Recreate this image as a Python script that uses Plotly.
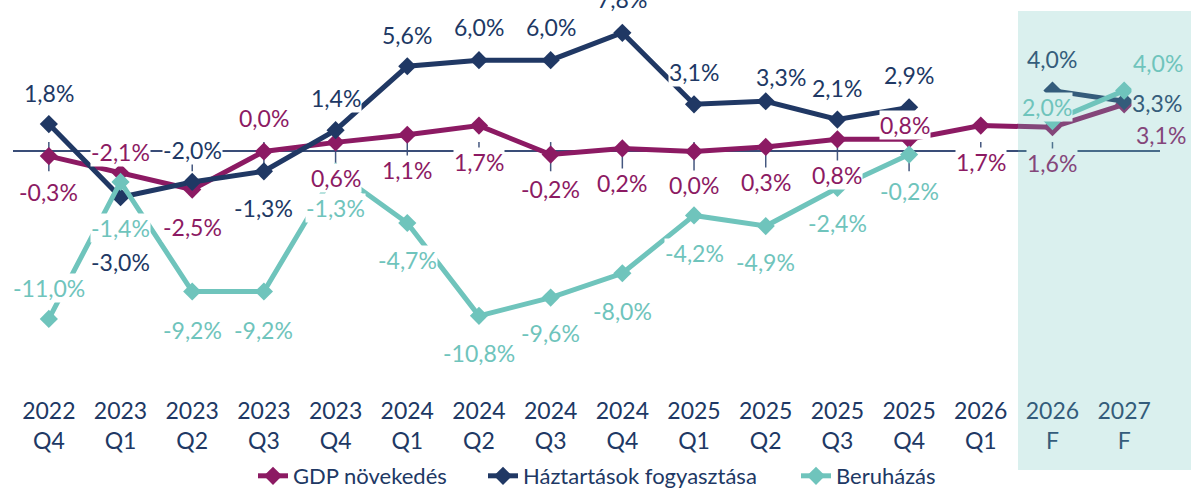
import plotly.graph_objects as go

# ---------------- data ----------------
categories = ["2022 Q4", "2023 Q1", "2023 Q2", "2023 Q3", "2023 Q4",
              "2024 Q1", "2024 Q2", "2024 Q3", "2024 Q4",
              "2025 Q1", "2025 Q2", "2025 Q3", "2025 Q4",
              "2026 Q1", "2026 F", "2027 F"]
tick_labels = ["2022<br>Q4", "2023<br>Q1", "2023<br>Q2", "2023<br>Q3", "2023<br>Q4",
               "2024<br>Q1", "2024<br>Q2", "2024<br>Q3", "2024<br>Q4",
               "2025<br>Q1", "2025<br>Q2", "2025<br>Q3", "2025<br>Q4",
               "2026<br>Q1", "2026<br>F", "2027<br>F"]

gdp = [-0.3, -1.4, -2.5, 0.0, 0.6, 1.1, 1.7, -0.2, 0.2, 0.0, 0.3, 0.8, 0.8, 1.7, 1.6, 3.1]
gdp_labels = ["-0,3%", "-2,1%", "-2,5%", "0,0%", "0,6%", "1,1%", "1,7%", "-0,2%", "0,2%",
              "0,0%", "0,3%", "0,8%", "0,8%", "1,7%", "1,6%", "3,1%"]

household = [1.8, -3.0, -2.0, -1.3, 1.4, 5.6, 6.0, 6.0, 7.8, 3.1, 3.3, 2.1, 2.9, None, 4.0, 3.3]
household_labels = ["1,8%", "-3,0%", "-2,0%", "-1,3%", "1,4%", "5,6%", "6,0%", "6,0%", "7,8%",
                    "3,1%", "3,3%", "2,1%", "2,9%", "", "4,0%", "3,3%"]

investment = [-11.0, -2.0, -9.2, -9.2, -1.3, -4.7, -10.8, -9.6, -8.0, -4.2, -4.9, -2.4, -0.2, None, 2.0, 4.0]
investment_labels = ["-11,0%", "-1,4%", "-9,2%", "-9,2%", "-1,3%", "-4,7%", "-10,8%", "-9,6%", "-8,0%",
                     "-4,2%", "-4,9%", "-2,4%", "-0,2%", "", "2,0%", "4,0%"]

series_names = ["GDP növekedés", "Háztartások fogyasztása", "Beruházás"]
forecast_start = 14  # index of first forecast category

# ---------------- styles ----------------
FONT = "Lato, 'Open Sans', sans-serif"
C_GDP = "#8C1A63"
C_HH = "#203864"
C_INV = "#6FC4BC"
SHADE_RGB = (111, 197, 189)
SHADE_A = 0.26

W, H = 1191, 491
ML, MR, MT, MB = 13, 31, 0, 96
PW = W - ML - MR
PH = H - MT - MB


def blend(hex_color):
    h = hex_color.lstrip("#")
    r, g, b = int(h[0:2], 16), int(h[2:4], 16), int(h[4:6], 16)
    sr, sg, sb = SHADE_RGB
    return "rgb(%d,%d,%d)" % (round(r + SHADE_A * (sr - r)),
                              round(g + SHADE_A * (sg - g)),
                              round(b + SHADE_A * (sb - b)))


def px_x(p):
    return (p - ML) / PW


def px_y(p):
    return (H - MB - p) / PH

# label offsets in screen pixels (dx right, dy down) relative to each point
gdp_off = [(0, 36), (0, -21), (0, 37), (0, -33), (0, 36), (0, 35), (0, 36), (0, 34), (0, 35),
           (0, 34), (0, 35), (0, 36), (-4, -14), (0, 36), (0, 36), (37, 31)]
hh_off = [(0, -31), (0, 65), (0, -32), (0, 37), (0, -32), (0, -31), (0, -33), (0, -33), (0, -34),
          (0, -32), (15, -24), (0, -32), (0, -32), (0, 0), (0, -32), (33, 2)]
inv_off = [(0, -31), (0, 46), (0, 38), (0, 38), (0, 37), (0, 37), (0, 37), (0, 35), (0, 38),
           (0, 38), (0, 36), (0, 35), (0, 36), (0, 0), (-5, -14), (34, -28)]

legend_ids = ["legend", "legend2", "legend3"]
legend_text_x = [298, 528, 841]

fig = go.Figure()

for name, vals, col, lg in [(series_names[0], gdp, C_GDP, legend_ids[0]),
                            (series_names[1], household, C_HH, legend_ids[1]),
                            (series_names[2], investment, C_INV, legend_ids[2])]:
    fig.add_trace(go.Scatter(
        x=categories, y=vals, name=name, mode="lines+markers",
        line=dict(color=col, width=5),
        marker=dict(symbol="diamond", size=14, color=col),
        connectgaps=False, hoverinfo="skip", legend=lg))

annotations = []
for vals, labs, offs, col in [(gdp, gdp_labels, gdp_off, C_GDP),
                              (household, household_labels, hh_off, C_HH),
                              (investment, investment_labels, inv_off, C_INV)]:
    for i, (v, t, (dx, dy)) in enumerate(zip(vals, labs, offs)):
        if v is None or not t:
            continue
        fc = col if i < forecast_start else blend(col)
        bg = "white" if i < forecast_start else blend("#FFFFFF")
        annotations.append(dict(
            x=categories[i], y=v, xref="x", yref="y", text=t, showarrow=False,
            xshift=dx, yshift=-dy, xanchor="center", yanchor="middle",
            font=dict(family=FONT, size=23, color=fc),
            bgcolor=bg, borderpad=0))

shapes = []
# small cross ticks on the zero axis (not drawn at the last category)
for c in categories[:-1]:
    shapes.append(dict(type="line", xref="x", yref="y", x0=c, x1=c, y0=-1.3, y1=0.62,
                       line=dict(color="#44577F", width=1.5), layer="below"))
# forecast shading (semi-transparent, on top)
shapes.append(dict(type="rect", xref="paper", yref="paper", x0=px_x(1018), x1=px_x(1195),
                   y0=px_y(470), y1=px_y(11),
                   fillcolor="rgba(%d,%d,%d,%.2f)" % (SHADE_RGB + (SHADE_A,)),
                   line=dict(width=0), layer="above"))

legend_style = dict(orientation="h", xanchor="left", yanchor="middle", y=px_y(476),
                    font=dict(family=FONT, size=22, color=C_HH), bgcolor="rgba(0,0,0,0)")

fig.update_layout(
    width=W, height=H,
    margin=dict(l=ML, r=MR, t=MT, b=MB, autoexpand=False),
    paper_bgcolor="white", plot_bgcolor="white",
    font=dict(family=FONT, color=C_HH),
    showlegend=True,
    legend=dict(x=px_x(legend_text_x[0] - 45), **legend_style),
    legend2=dict(x=px_x(legend_text_x[1] - 45), **legend_style),
    legend3=dict(x=px_x(legend_text_x[2] - 45), **legend_style),
    annotations=annotations, shapes=shapes,
    xaxis=dict(type="category", categoryorder="array", categoryarray=categories,
               tickmode="array", tickvals=categories, ticktext=tick_labels,
               range=[-0.5, 15.5], showgrid=False, showline=False, ticks="",
               tickfont=dict(family=FONT, size=23, color=C_HH), fixedrange=True,
               automargin=False),
    yaxis=dict(range=[-16.0, 9.954], showgrid=False, showticklabels=False,
               zeroline=True, zerolinecolor="#3A4D78", zerolinewidth=2, showline=False,
               ticks="", fixedrange=True, automargin=False),
)

fig.write_html("out.html", config={"displayModeBar": False},
               post_script="document.body.style.margin='0';document.body.style.overflow='hidden';")
